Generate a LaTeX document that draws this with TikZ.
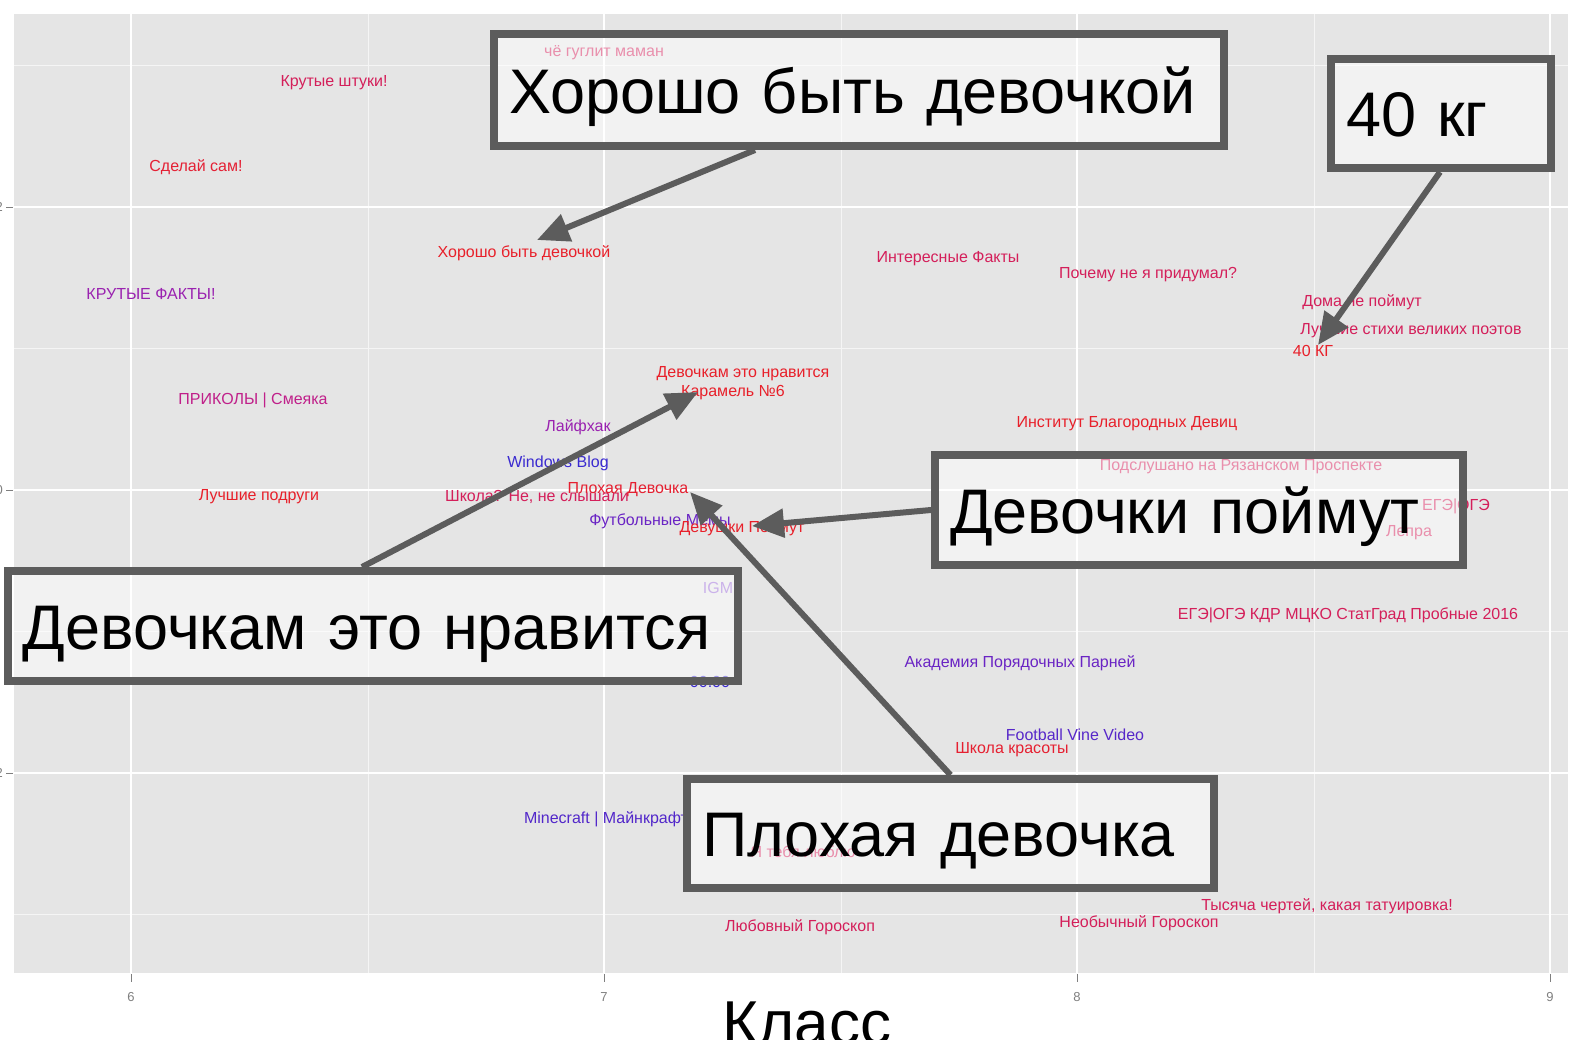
\documentclass[tikz,border=0pt]{standalone}
\usepackage{fontspec}
\setmainfont{Liberation Sans}
\usetikzlibrary{arrows.meta}
\definecolor{panel}{HTML}{E5E5E5}
\definecolor{boxgray}{HTML}{5C5C5C}
\definecolor{ticklab}{HTML}{7F7F7F}
\definecolor{cred}{HTML}{E8202A}
\definecolor{ccrim}{HTML}{D41F5A}
\definecolor{cmag}{HTML}{C0208A}
\definecolor{cpur}{HTML}{9A22B0}
\definecolor{cvio}{HTML}{6A24C4}
\definecolor{cblue}{HTML}{3A2AD0}
\tikzset{
  lab/.style={inner sep=0pt, font=\fontsize{16}{18}\selectfont},
  bigbox/.style={draw=boxgray, line width=8pt, fill=white, fill opacity=0.5,
    text opacity=1, font=\fontsize{63}{70}\selectfont, text height=46pt,
    text depth=0pt, align=left, inner xsep=15pt, inner ysep=0pt, anchor=center},
  callout/.style={draw=boxgray, line width=6pt, -{Triangle[length=32pt,width=28pt]}},
  ticklabel/.style={inner sep=0pt, text=ticklab, font=\fontsize{13}{15}\selectfont},
  majorgrid/.style={white, line width=2pt},
  minorgrid/.style={white!60!panel, line width=1pt},
  tickmark/.style={ticklab, line width=1pt}
}
\begin{document}
\begin{tikzpicture}[x=1pt,y=-1pt]
\useasboundingbox (0,0) rectangle (1576,1039);
% panel
\fill[panel] (14,14) rectangle (1568,973);
\foreach \x in {368,841,1314} \draw[minorgrid] (\x,14) -- (\x,973);
\foreach \y in {65,348,631,914} \draw[minorgrid] (14,\y) -- (1568,\y);
\foreach \x in {131,604,1077,1550} \draw[majorgrid] (\x,14) -- (\x,973);
\foreach \y in {207,490,773} \draw[majorgrid] (14,\y) -- (1568,\y);
% ticks
\foreach \x/\t in {131/6,604/7,1077/8,1550/9} {
  \draw[tickmark] (\x,974) -- (\x,982);
  \node[ticklabel] at (\x,997) {\t};
}
\foreach \y/\t in {207/2,490/0,773/2} {
  \draw[tickmark] (6,\y) -- (13,\y);
  \node[ticklabel, anchor=east] at (3,\y) {\t};
}
\node[font=\fontsize{62}{68}\selectfont, inner sep=0pt, anchor=base] (xl) at (807,1044) {Класс};
% data labels
\node[lab, text=ccrim] (l1) at (604,53) {чё гуглит маман};
\node[lab, text=ccrim] (l2) at (334,83) {Крутые штуки!};
\node[lab, text=cred!80!ccrim] (l3) at (196,167) {Сделай сам!};
\node[lab, text=cred] (l4) at (524,253) {Хорошо быть девочкой};
\node[lab, text=cpur] (l5) at (151,294) {КРУТЫЕ ФАКТЫ!};
\node[lab, text=cmag] (l6) at (253,400) {ПРИКОЛЫ | Смеяка};
\node[lab, text=cred] (l7) at (259,497) {Лучшие подруги};
\node[lab, text=ccrim] (l8) at (537,497) {Школа? Не, не слышали};
\node[lab, text=cblue] (l9) at (558,463) {Windows Blog};
\node[lab, text=cpur] (l10) at (578,427) {Лайфхак};
\node[lab, text=cred!85!ccrim] (l11) at (628,490) {Плохая Девочка};
\node[lab, text=cred] (l12) at (743,374) {Девочкам это нравится};
\node[lab, text=cred] (l13) at (733,393) {Карамель №6};
\node[lab, text=cvio] (l14) at (660,521) {Футбольные Мемы};
\node[lab, text=cred] (l15) at (742,528) {Девушки Поймут};
\node[lab, text=cvio!70!white] (l16) at (718,588) {IGM};
\node[lab, text=cblue] (l17) at (710,682) {00:00};
\node[lab, text=ccrim] (l18) at (948,259) {Интересные Факты};
\node[lab, text=ccrim] (l19) at (1148,275) {Почему не я придумал?};
\node[lab, text=ccrim] (l20) at (1362,302) {Дома не поймут};
\node[lab, text=ccrim] (l21) at (1411,331) {Лучшие стихи великих поэтов};
\node[lab, text=cred] (l22) at (1313,351) {40 КГ};
\node[lab, text=cred] (l23) at (1127,424) {Институт Благородных Девиц};
\node[lab, text=ccrim] (l24) at (1241,467) {Подслушано на Рязанском Проспекте};
\node[lab, text=ccrim] (l25) at (1456,506) {ЕГЭ|ОГЭ};
\node[lab, text=ccrim] (l26) at (1409,533) {Лепра};
\node[lab, text=ccrim] (l27) at (1348,615) {ЕГЭ|ОГЭ КДР МЦКО СтатГрад Пробные 2016};
\node[lab, text=cvio] (l28) at (1020,663) {Академия Порядочных Парней};
\node[lab, text=cvio!60!cblue] (l29) at (1075,735) {Football Vine Video};
\node[lab, text=cred!85!ccrim] (l30) at (1012,750) {Школа красоты};
\node[lab, text=cvio!50!cblue] (l31) at (606,819) {Minecraft | Майнкрафт};
\node[lab, text=ccrim] (l32) at (803,852) {Я тебя люблю};
\node[lab, text=ccrim] (l33) at (800,927) {Любовный Гороскоп};
\node[lab, text=ccrim] (l34) at (1139,923) {Необычный Гороскоп};
\node[lab, text=ccrim] (l35) at (1327,906) {Тысяча чертей, какая татуировка!};
% callout boxes
\node[bigbox, text width=700pt, minimum height=112pt] (b1) at (859,90) {Хорошо быть девочкой};
\node[bigbox, text width=190pt, minimum height=109pt] (b2) at (1441,113.5) {40 кг};
\node[bigbox, text width=700pt, minimum height=110pt] (b3) at (373,626) {Девочкам это нравится};
\node[bigbox, text width=498pt, minimum height=110pt] (b4) at (1199,510) {Девочки поймут};
\node[bigbox, text width=497pt, minimum height=109pt] (b5) at (950.5,833.5) {Плохая девочка};
% arrow tips
\coordinate (t1) at (537,240);
\coordinate (t2) at (1318,345);
\coordinate (t3) at (698,392);
\coordinate (t4) at (752,526);
\coordinate (t5) at (690,492);
\draw[callout] ([xshift=-104pt]b1.south) -- (t1);
\draw[callout] ([xshift=-1pt]b2.south) -- (t2);
\draw[callout] ([xshift=-11pt]b3.north) -- (t3);
\draw[callout] (b4.west) -- (t4);
\draw[callout] (b5.north) -- (t5);
\end{tikzpicture}
\end{document}
